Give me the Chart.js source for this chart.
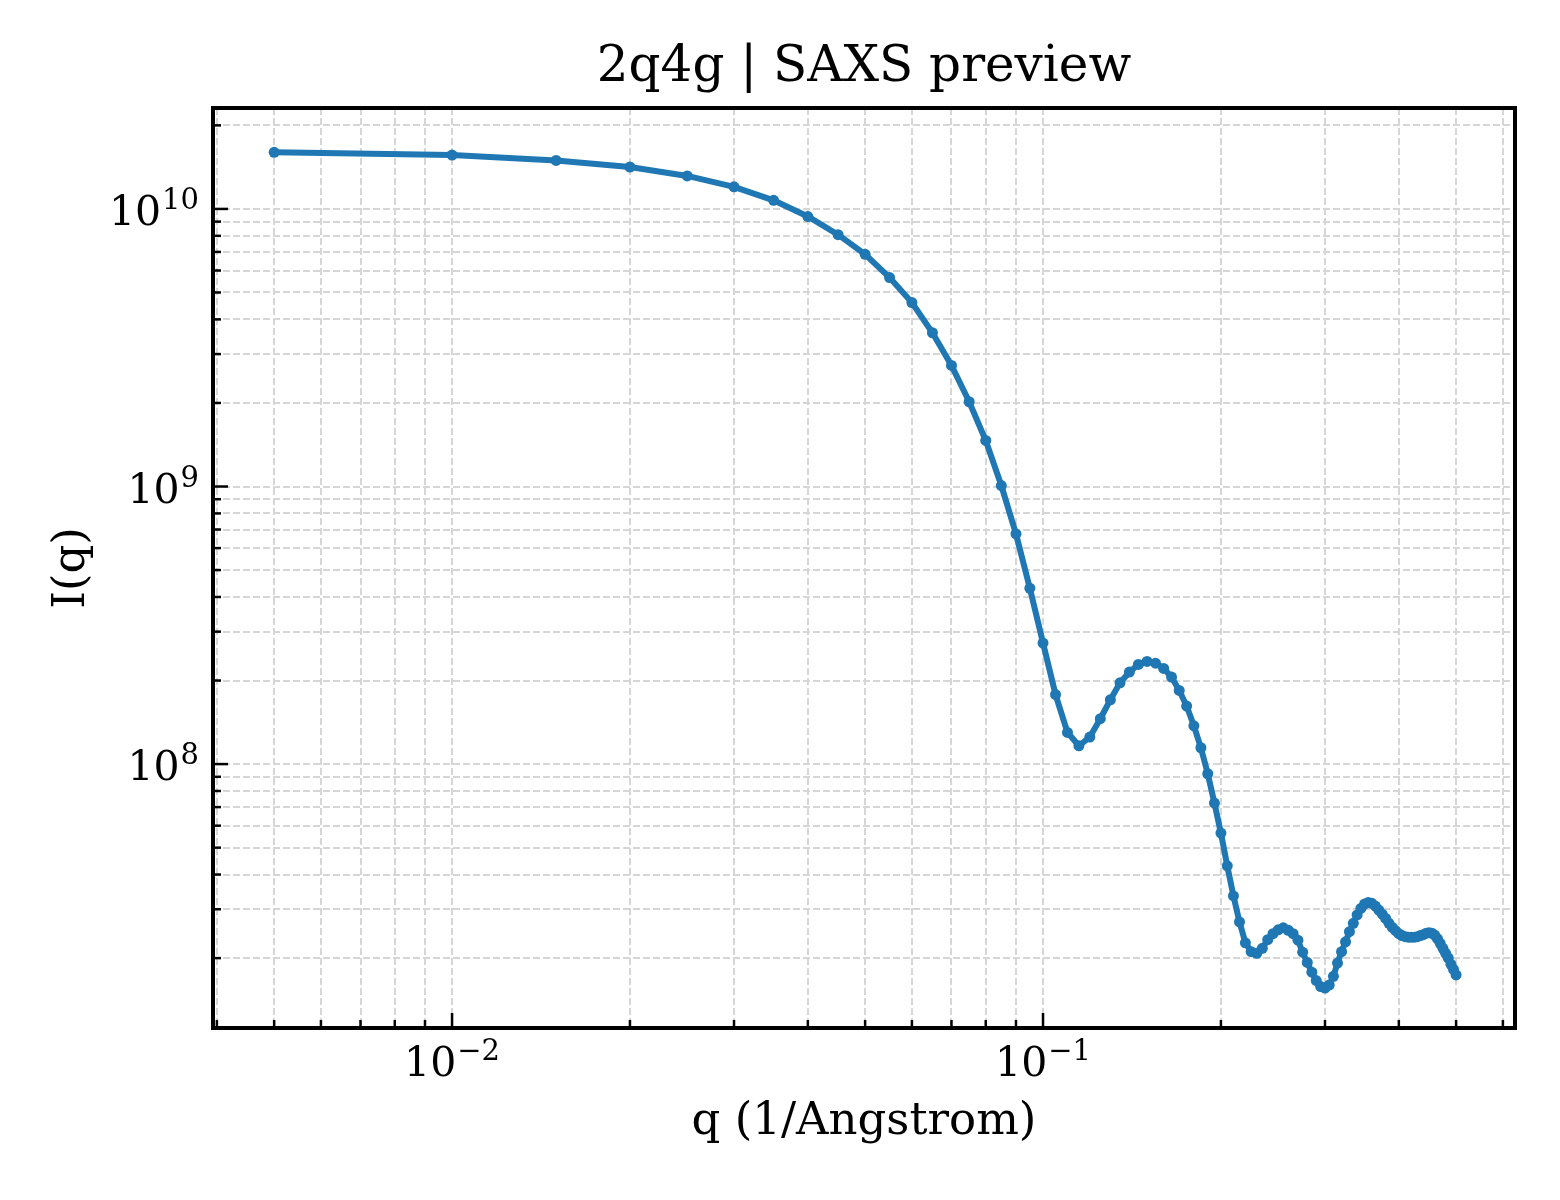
<!DOCTYPE html>
<html>
<head>
<meta charset="utf-8">
<script src="https://cdn.jsdelivr.net/npm/chart.js@4.4.1/dist/chart.umd.min.js"></script>
<style>
  html, body { margin: 0; padding: 0; background: #fff; }
  #wrap { width: 1560px; height: 1200px; }
</style>
</head>
<body>
<div id="wrap"><canvas id="saxsChart" width="1560" height="1200"></canvas></div>
<script>
// q values (1/Angstrom)
const qValues = [
  0.005, 0.010, 0.015, 0.020, 0.025, 0.030, 0.035, 0.040, 0.045, 0.050,
  0.055, 0.060, 0.065, 0.070, 0.075, 0.080, 0.085, 0.090, 0.095, 0.100,
  0.105, 0.110, 0.115, 0.120, 0.125, 0.130, 0.135, 0.140, 0.145, 0.150,
  0.155, 0.160, 0.165, 0.170, 0.175, 0.180, 0.185, 0.190, 0.195, 0.200,
  0.205, 0.210, 0.215, 0.220, 0.225, 0.230, 0.235, 0.240, 0.245, 0.250,
  0.255, 0.260, 0.265, 0.270, 0.275, 0.280, 0.285, 0.290, 0.295, 0.300,
  0.305, 0.310, 0.315, 0.320, 0.325, 0.330, 0.335, 0.340, 0.345, 0.350,
  0.355, 0.360, 0.365, 0.370, 0.375, 0.380, 0.385, 0.390, 0.395, 0.400,
  0.405, 0.410, 0.415, 0.420, 0.425, 0.430, 0.435, 0.440, 0.445, 0.450,
  0.455, 0.460, 0.465, 0.470, 0.475, 0.480, 0.485, 0.490, 0.495, 0.500
];

// I(q)
const intensity = [
  1.60e10, 1.563e10, 1.495e10, 1.416e10, 1.315e10, 1.201e10, 1.074e10, 9.39e9, 8.08e9, 6.86e9,
  5.66e9, 4.60e9, 3.58e9, 2.73e9, 2.02e9, 1.465e9, 1.008e9, 6.75e8, 4.30e8, 2.73e8,
  1.78e8, 1.30e8, 1.164e8, 1.251e8, 1.457e8, 1.705e8, 1.963e8, 2.146e8, 2.286e8, 2.344e8,
  2.31e8, 2.212e8, 2.058e8, 1.843e8, 1.618e8, 1.374e8, 1.145e8, 9.23e7, 7.24e7, 5.64e7,
  4.30e7, 3.35e7, 2.70e7, 2.27e7, 2.11e7, 2.08e7, 2.17e7, 2.33e7, 2.45e7, 2.53e7,
  2.57e7, 2.52e7, 2.45e7, 2.32e7, 2.10e7, 1.93e7, 1.78e7, 1.66e7, 1.58e7, 1.56e7,
  1.60e7, 1.72e7, 1.92e7, 2.11e7, 2.29e7, 2.49e7, 2.67e7, 2.86e7, 3.02e7, 3.13e7,
  3.17e7, 3.15e7, 3.08e7, 2.98e7, 2.88e7, 2.78e7, 2.67e7, 2.58e7, 2.51e7, 2.45e7,
  2.41e7, 2.39e7, 2.38e7, 2.38e7, 2.38e7, 2.39e7, 2.41e7, 2.43e7, 2.46e7, 2.47e7,
  2.46e7, 2.42e7, 2.35e7, 2.26e7, 2.17e7, 2.08e7, 2.00e7, 1.90e7, 1.82e7, 1.74e7
];

// labelled (major) ticks: base 10 with an exponent
const xMajorTicks = [0.01, 0.1];
const xMajorExponents = ['−2', '−1'];
const yMajorTicks = [1e8, 1e9, 1e10];
const yMajorExponents = ['8', '9', '10'];

// axis limits
const xLimits = [0.00394, 0.629];
const yLimits = [1.12e7, 2.31e10];

const FONT = "'DejaVu Serif', 'Liberation Serif', serif";
const BASE_SIZE = 41;
const EXP_SIZE = 29;

function isDecade(v) {
  const l = Math.log10(v);
  return Math.abs(l - Math.round(l)) < 1e-9;
}

// 1..9 x 10^n inside the axis range
function logTicks(min, max) {
  const out = [];
  for (let e = Math.floor(Math.log10(min)); e <= Math.ceil(Math.log10(max)); e++) {
    for (let m = 1; m <= 9; m++) {
      const v = m * Math.pow(10, e);
      if (v >= min && v <= max) out.push({ value: v });
    }
  }
  return out;
}

// draws "10" with a raised exponent, like matplotlib mathtext
function drawPowerLabel(ctx, exp, x, baseline, align) {
  ctx.font = BASE_SIZE + 'px ' + FONT;
  const wBase = ctx.measureText('10').width;
  ctx.font = EXP_SIZE + 'px ' + FONT;
  const wExp = ctx.measureText(exp).width;
  const total = wBase + wExp + 1;
  let start = x;
  if (align === 'center') start = x - total / 2;
  if (align === 'right') start = x - total;
  ctx.textBaseline = 'alphabetic';
  ctx.textAlign = 'left';
  ctx.font = BASE_SIZE + 'px ' + FONT;
  ctx.fillText('10', start, baseline);
  ctx.font = EXP_SIZE + 'px ' + FONT;
  ctx.fillText(exp, start + wBase + 1, baseline - 16);
}

// matplotlib-like inward ticks on left/bottom, tick labels and the black frame
const frameAndTicks = {
  id: 'frameAndTicks',
  afterDraw(chart) {
    const { ctx, chartArea: a, scales } = chart;
    ctx.save();
    ctx.strokeStyle = '#000';
    ctx.lineWidth = 2.5;
    scales.x.ticks.forEach(t => {
      const px = scales.x.getPixelForValue(t.value);
      const len = isDecade(t.value) ? 15 : 8;
      ctx.beginPath();
      ctx.moveTo(px, a.bottom);
      ctx.lineTo(px, a.bottom - len);
      ctx.stroke();
    });
    scales.y.ticks.forEach(t => {
      const py = scales.y.getPixelForValue(t.value);
      const len = isDecade(t.value) ? 15 : 8;
      ctx.beginPath();
      ctx.moveTo(a.left, py);
      ctx.lineTo(a.left + len, py);
      ctx.stroke();
    });
    ctx.lineWidth = 4;
    ctx.strokeRect(a.left, a.top, a.right - a.left, a.bottom - a.top);

    ctx.fillStyle = '#000';
    xMajorTicks.forEach((v, i) => {
      const px = scales.x.getPixelForValue(v);
      drawPowerLabel(ctx, xMajorExponents[i], px, a.bottom + 48, 'center');
    });
    yMajorTicks.forEach((v, i) => {
      const py = scales.y.getPixelForValue(v);
      drawPowerLabel(ctx, yMajorExponents[i], a.left - 14, py + 16, 'right');
    });
    ctx.restore();
  }
};

const points = qValues.map((q, i) => ({ x: q, y: intensity[i] }));

const ctx = document.getElementById('saxsChart').getContext('2d');
new Chart(ctx, {
  type: 'scatter',
  data: {
    datasets: [{
      label: 'I(q)',
      data: points,
      showLine: true,
      borderColor: '#1f77b4',
      backgroundColor: '#1f77b4',
      borderWidth: 6,
      pointRadius: 5.5,
      pointBorderWidth: 0,
      pointHoverRadius: 5.5,
      tension: 0
    }]
  },
  options: {
    responsive: false,
    devicePixelRatio: 1,
    animation: false,
    events: [],
    layout: { padding: { left: 0, right: 45, top: 0, bottom: 0 } },
    scales: {
      x: {
        type: 'logarithmic',
        position: 'bottom',
        min: xLimits[0],
        max: xLimits[1],
        afterBuildTicks: scale => { scale.ticks = logTicks(xLimits[0], xLimits[1]); },
        afterFit: scale => { scale.height = 172; },
        ticks: { display: false, autoSkip: false },
        grid: {
          color: '#d6d6d6',
          lineWidth: 2,
          drawTicks: false
        },
        border: { display: false, dash: [7, 3] },
        title: {
          display: true,
          text: 'q (1/Angstrom)',
          color: '#000',
          font: { family: FONT, size: 45 },
          padding: { top: 0, bottom: 51 }
        }
      },
      y: {
        type: 'logarithmic',
        position: 'left',
        min: yLimits[0],
        max: yLimits[1],
        afterBuildTicks: scale => { scale.ticks = logTicks(yLimits[0], yLimits[1]); },
        afterFit: scale => { scale.width = 213; },
        ticks: { display: false, autoSkip: false },
        grid: {
          color: '#d6d6d6',
          lineWidth: 2,
          drawTicks: false
        },
        border: { display: false, dash: [7, 3] },
        title: {
          display: true,
          text: 'I(q)',
          color: '#000',
          font: { family: FONT, size: 45 },
          padding: { top: 45, bottom: 0 }
        }
      }
    },
    plugins: {
      legend: { display: false },
      tooltip: { enabled: false },
      title: {
        display: true,
        fullSize: false,
        text: '2q4g | SAXS preview',
        color: '#000',
        font: { family: FONT, size: 50, weight: 'normal' },
        padding: { top: 38, bottom: 10 }
      }
    }
  },
  plugins: [frameAndTicks]
});
</script>
</body>
</html>
